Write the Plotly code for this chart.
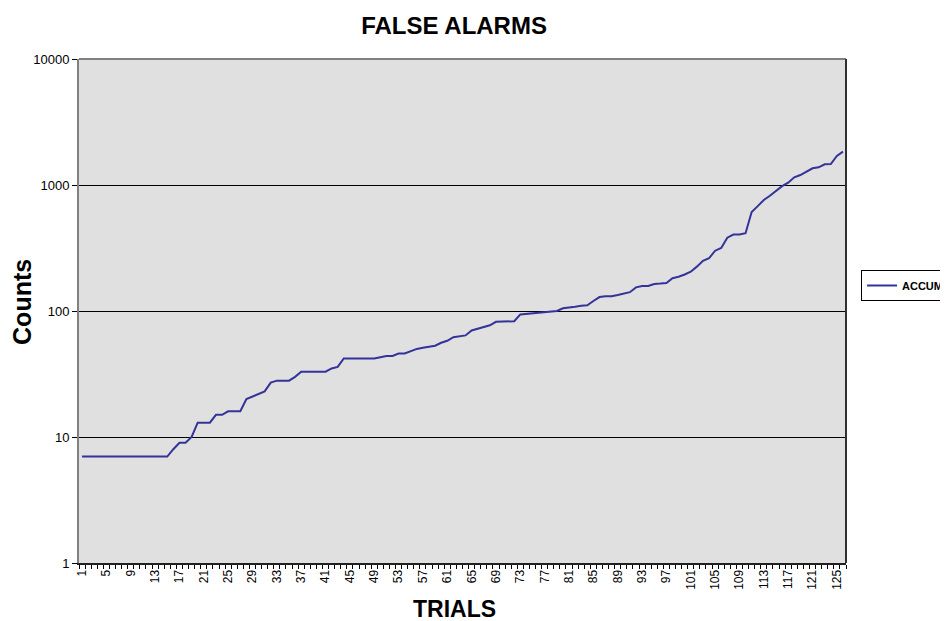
import plotly.graph_objects as go

trials = list(range(1, 127))
accum = [7]*15 + [
    8, 9, 9, 10, 13, 13, 13, 15, 15, 16,          # 16-25
    16, 16, 20, 21, 22, 23, 27, 28, 28, 28,       # 26-35
    30, 33, 33, 33, 33, 33, 35, 36, 42, 42,       # 36-45
    42, 42, 42, 42, 43, 44, 44, 46, 46, 48,       # 46-55
    50, 51, 52, 53, 56, 58, 62, 63, 64, 70,       # 56-65
    72, 75, 77, 82, 82, 82, 83, 94, 95, 96,       # 66-75
    97, 97, 99, 100, 105, 106, 108, 110, 111, 120,  # 76-85
    129, 131, 131, 134, 137, 141, 154, 158, 158, 164,  # 86-95
    165, 167, 182, 187, 195, 205, 225, 250, 262, 301,  # 96-105
    316, 382, 404, 404, 414, 610, 680, 760, 822, 902,  # 106-115
    980, 1043, 1151, 1200, 1267, 1357, 1382, 1459, 1467, 1700,  # 116-125
    1840]
x_label_vals = [t for t in trials if (t - 1) % 4 == 0]
x_label_text = [str(t) for t in x_label_vals]
y_tick_vals = [1, 10, 100, 1000, 10000]
y_tick_text = ["1", "10", "100", "1000", "10000"]

FONT = "Liberation Sans, Arial, sans-serif"

fig = go.Figure()
fig.add_trace(go.Scatter(
    x=trials, y=accum, mode="lines", name="<b>ACCUM</b>",
    line=dict(color="#333399", width=2),
))

fig.update_layout(
    width=940, height=613, autosize=False,
    margin=dict(l=71, r=102, t=51, b=58, autoexpand=False),
    paper_bgcolor="white",
    plot_bgcolor="#E0E0E0",
    font=dict(family=FONT, color="black", size=12),
    title=dict(text="<b>FALSE ALARMS</b>", x=0.489, xref="paper", xanchor="center",
               y=0.972, yref="container", yanchor="middle",
               font=dict(size=24, family=FONT)),
    showlegend=True,
    legend=dict(x=1.0196, xanchor="left", y=0.5506, yanchor="middle",
                bordercolor="black", borderwidth=1, bgcolor="white",
                font=dict(size=11, family=FONT), itemwidth=30),
    annotations=[
        dict(text="<b>TRIALS</b>", xref="paper", yref="paper", x=0.489, y=-0.092,
             xanchor="center", yanchor="middle", showarrow=False,
             font=dict(size=23, family=FONT)),
        dict(text="<b>Counts</b>", xref="paper", yref="paper", x=-0.0743, y=0.518,
             xanchor="center", yanchor="middle", showarrow=False, textangle=-90,
             font=dict(size=25, family=FONT)),
    ],
    shapes=[
        dict(type="line", xref="paper", yref="paper", x0=0, x1=1, y0=1, y1=1,
             line=dict(color="#808080", width=2)),
        dict(type="line", xref="paper", yref="paper", x0=1, x1=1, y0=0, y1=1,
             line=dict(color="#303030", width=2)),
    ],
)

fig.update_xaxes(
    type="linear", range=[0.5, 126.5], automargin=False,
    tickmode="array", tickvals=x_label_vals, ticktext=x_label_text,
    tickangle=-90, ticks="", tickfont=dict(size=12),
    showgrid=False, zeroline=False,
    showline=True, linecolor="#202020", linewidth=2, mirror=False,
    minor=dict(tickmode="linear", tick0=0.5, dtick=1, ticks="outside",
               ticklen=4, tickcolor="black", tickwidth=1, showgrid=False),
)
fig.update_yaxes(
    type="log", range=[0, 4], automargin=False,
    tickmode="array", tickvals=y_tick_vals, ticktext=y_tick_text,
    ticks="outside", ticklen=5, tickcolor="black", tickfont=dict(size=13),
    showgrid=True, gridcolor="black", gridwidth=1,
    zeroline=False,
    showline=True, linecolor="#808080", linewidth=2, mirror=False,
)

fig.write_html("out.html")
